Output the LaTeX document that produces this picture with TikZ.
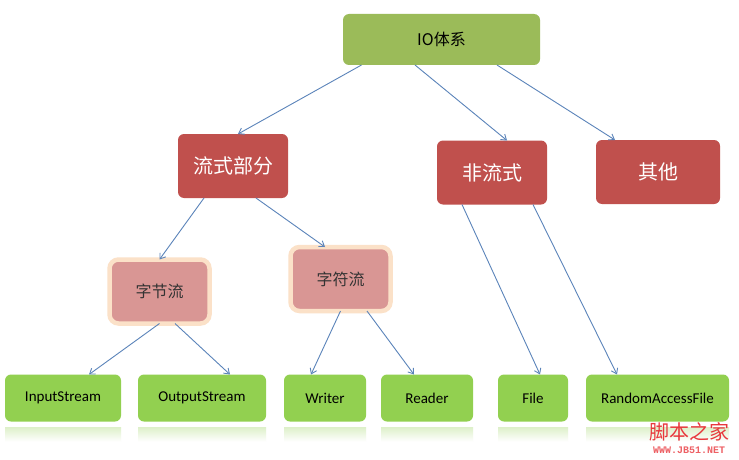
\documentclass[tikz,border=0pt]{standalone}
\usepackage{fontspec}
\setmainfont{Carlito}
\newfontfamily\cjk{Noto Sans CJK SC}
\newfontfamily\sitefont{Liberation Mono}
\usetikzlibrary{arrows.meta}
\definecolor{iogreen}{HTML}{9BBB59}
\definecolor{leafgreen}{HTML}{92D050}
\definecolor{boxred}{HTML}{C0504D}
\definecolor{boxpink}{HTML}{D99694}
\definecolor{halo}{HTML}{FBE1C8}
\definecolor{linkblue}{HTML}{5B84BA}
\definecolor{wmred}{HTML}{E8383D}

\begin{document}
\begin{tikzpicture}[x=1pt, y=-1pt,
  every node/.style={rounded corners=6pt, outer sep=0pt, inner sep=0pt, align=center},
  top/.style={fill=iogreen, minimum width=197pt, minimum height=51pt, font=\cjk\fontsize{16}{18}\selectfont},
  part/.style={fill=boxred, text=white, minimum height=64pt, font=\cjk\fontsize{20}{24}\selectfont},
  kind/.style={fill=boxpink, draw=halo, line width=4.5pt, rounded corners=9pt, minimum width=100pt, minimum height=64pt, text=black!80, font=\cjk\fontsize{16}{18}\selectfont},
  leaf/.style={fill=leafgreen, minimum height=47pt, font=\fontsize{15}{18}\selectfont},
  link/.style={draw=linkblue, line width=0.9pt, -{Straight Barb[length=5pt,width=7pt]}}]
\useasboundingbox (0,0) rectangle (739,460);
\fill[white] (0,0) rectangle (739,460);

% top
\node[top] (io) at (441.5,39.5) {IO体系};

% second row
\node[part, minimum width=110pt] (stream) at (233,166) {流式部分};
\node[part, minimum width=110pt] (nonstream) at (492,172.5) {非流式};
\node[part, minimum width=124pt] (other) at (658,172) {其他};

% stream kinds
\node[kind] (bytes) at (159.5,291.5) {字节流};
\node[kind] (chars) at (340.5,279) {字符流};

% classes
\node[leaf, minimum width=116pt] (instream) at (63,398) {InputStream};
\node[leaf, minimum width=128pt] (outstream) at (202,398) {OutputStream};
\node[leaf, minimum width=82pt] (writer) at (325,398) {Writer};
\node[leaf, minimum width=92pt] (reader) at (427,398) {Reader};
\node[leaf, minimum width=70pt] (file) at (533,398) {File};
\node[leaf, minimum width=143pt] (raf) at (657.5,398) {RandomAccessFile};

% reflections
\foreach \n in {instream,outstream,writer,reader,file,raf}
  \shade[top color=leafgreen!30, bottom color=white] ([yshift=-6pt]\n.south west) rectangle ([yshift=-20pt]\n.south east);

% links
\draw[link] ([xshift=-80pt]io.south) -- ([xshift=5pt]stream.north);
\draw[link] ([xshift=-26.5pt]io.south) -- ([xshift=15pt]nonstream.north);
\draw[link] ([xshift=55.5pt]io.south) -- ([xshift=-43pt]other.north);
\draw[link] ([xshift=-29pt]stream.south) -- (bytes.north);
\draw[link] ([xshift=23pt]stream.south) -- ([xshift=-15.5pt]chars.north);
\draw[link] (bytes.south) -- ([xshift=26pt]instream.north);
\draw[link] ([xshift=15.5pt]bytes.south) -- ([xshift=28pt]outstream.north);
\draw[link] (chars.south) -- ([xshift=-14pt]writer.north);
\draw[link] ([xshift=26.5pt]chars.south) -- ([xshift=-13pt]reader.north);
\draw[link] ([xshift=-30pt]nonstream.south) -- ([xshift=7pt]file.north);
\draw[link] ([xshift=41pt]nonstream.south) -- ([xshift=-40.5pt]raf.north);

% watermark
\node[text=wmred, font=\cjk\fontsize{20}{22}\selectfont] (logo) at (689,432) {脚本之家};
\node[text=wmred!80, font=\sitefont\bfseries\fontsize{10}{11}\selectfont] (site) at (689,450) {WWW.JB51.NET};
\end{tikzpicture}
\end{document}
